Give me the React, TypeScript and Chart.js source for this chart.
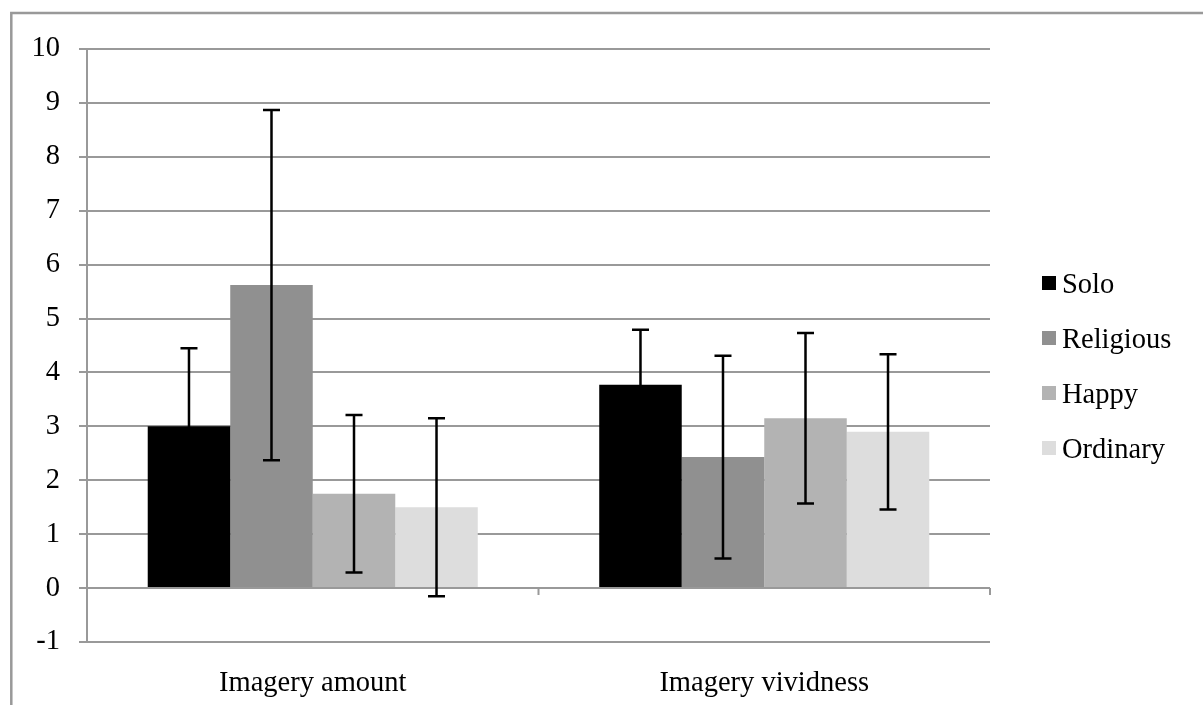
import React, { useEffect, useRef } from "react";
import { Chart, registerables } from "chart.js";

Chart.register(...registerables);

const categories = ["Imagery amount", "Imagery vividness"];
const seriesNames = ["Solo", "Religious", "Happy", "Ordinary"];
const seriesColors = ["#000000", "#909090", "#b3b3b3", "#dddddd"];
const soloValues = [3.0, 3.77];
const religiousValues = [5.62, 2.43];
const happyValues = [1.75, 3.15];
const ordinaryValues = [1.5, 2.9];
const soloErrors = [1.45, 1.02];
const religiousErrors = [3.25, 1.88];
const happyErrors = [1.46, 1.58];
const ordinaryErrors = [1.65, 1.44];
const yTicks = [-1, 0, 1, 2, 3, 4, 5, 6, 7, 8, 9, 10];

const allValues = [soloValues, religiousValues, happyValues, ordinaryValues];
const allErrors = [soloErrors, religiousErrors, happyErrors, ordinaryErrors];

const FONT = "'Liberation Serif', 'DejaVu Serif', serif";
const FONT_SIZE = 28.5;
const GRID = "#999999";

const errorBarPlugin = {
  id: "errorBars",
  afterDatasetsDraw(chart: any) {
    const ctx = chart.ctx;
    const y = chart.scales.y;
    ctx.save();
    ctx.strokeStyle = "#000";
    ctx.lineWidth = 2.5;
    chart.data.datasets.forEach((ds: any, i: number) => {
      const meta = chart.getDatasetMeta(i);
      meta.data.forEach((bar: any, j: number) => {
        const v = ds.data[j];
        const e = ds.errors[j];
        const top = y.getPixelForValue(v + e);
        const bot = y.getPixelForValue(v - e);
        const x = bar.x;
        const cap = 8.5;
        ctx.beginPath();
        ctx.moveTo(x, top);
        ctx.lineTo(x, bot);
        ctx.moveTo(x - cap, top);
        ctx.lineTo(x + cap, top);
        ctx.moveTo(x - cap, bot);
        ctx.lineTo(x + cap, bot);
        ctx.stroke();
      });
    });
    ctx.restore();
  },
};

const framePlugin = {
  id: "frameAndExtras",
  beforeDraw(chart: any) {
    const ctx = chart.ctx;
    ctx.save();
    ctx.strokeStyle = GRID;
    ctx.lineWidth = 2.5;
    ctx.beginPath();
    ctx.moveTo(11.3, chart.height);
    ctx.lineTo(11.3, 13);
    ctx.lineTo(chart.width, 13);
    ctx.stroke();
    ctx.restore();
  },
  afterDraw(chart: any) {
    const ctx = chart.ctx;
    const x = chart.scales.x;
    const y = chart.scales.y;
    const area = chart.chartArea;
    const y0 = y.getPixelForValue(0);
    const bounds = [area.left, (x.getPixelForValue(0) + x.getPixelForValue(1)) / 2, area.right];
    ctx.save();
    ctx.strokeStyle = GRID;
    ctx.lineWidth = 2;
    ctx.beginPath();
    bounds.forEach((bx) => {
      ctx.moveTo(bx, y0);
      ctx.lineTo(bx, y0 + 7);
    });
    ctx.stroke();

    // legend
    const lx = 1042;
    const ly0 = 283;
    const step = 55;
    ctx.font = `${FONT_SIZE}px ${FONT}`;
    ctx.textAlign = "left";
    ctx.textBaseline = "alphabetic";
    seriesNames.forEach((name, i) => {
      const cy = ly0 + i * step;
      ctx.fillStyle = seriesColors[i];
      ctx.fillRect(lx, cy - 7, 14, 14);
      ctx.fillStyle = "#000";
      ctx.fillText(name, lx + 20, cy + 9.5);
    });
    ctx.restore();
  },
};

export default function App() {
  const ref = useRef<HTMLCanvasElement | null>(null);
  useEffect(() => {
    if (!ref.current) return;
    const chart = new Chart(ref.current, {
      type: "bar",
      data: {
        labels: categories,
        datasets: seriesNames.map((name, i) => ({
          label: name,
          data: allValues[i],
          errors: allErrors[i],
          backgroundColor: seriesColors[i],
          borderWidth: 0,
          categoryPercentage: 0.731,
          barPercentage: 1.0,
        })) as any,
      },
      options: {
        animation: false,
        responsive: false,
        devicePixelRatio: 1,
        layout: { padding: { top: 49, right: 213, bottom: 0, left: 0 } },
        plugins: { legend: { display: false }, tooltip: { enabled: false } },
        scales: {
          x: {
            grid: { display: false, drawTicks: false },
            border: { display: false },
            ticks: {
              color: "#000",
              font: { family: FONT, size: FONT_SIZE },
              padding: 24,
              maxRotation: 0,
            },
            afterFit: (s: any) => {
              s.height = 63;
            },
          },
          y: {
            min: -1,
            max: 10,
            afterBuildTicks: (s: any) => {
              s.ticks = yTicks.map((v) => ({ value: v }));
            },
            grid: { color: GRID, lineWidth: 2, tickLength: 8, drawTicks: true },
            border: { display: true, color: GRID, width: 2 },
            ticks: {
              color: "#000",
              font: { family: FONT, size: FONT_SIZE },
              padding: 19,
            },
            afterFit: (s: any) => {
              s.width = 87;
            },
          },
        },
      } as any,
      plugins: [errorBarPlugin, framePlugin],
    });
    return () => chart.destroy();
  }, []);
  return (
    <div style={{ position: "fixed", left: 0, top: 0, width: 1203, height: 705 }}>
      <canvas ref={ref} width={1203} height={705} style={{ display: "block" }} />
    </div>
  );
}
